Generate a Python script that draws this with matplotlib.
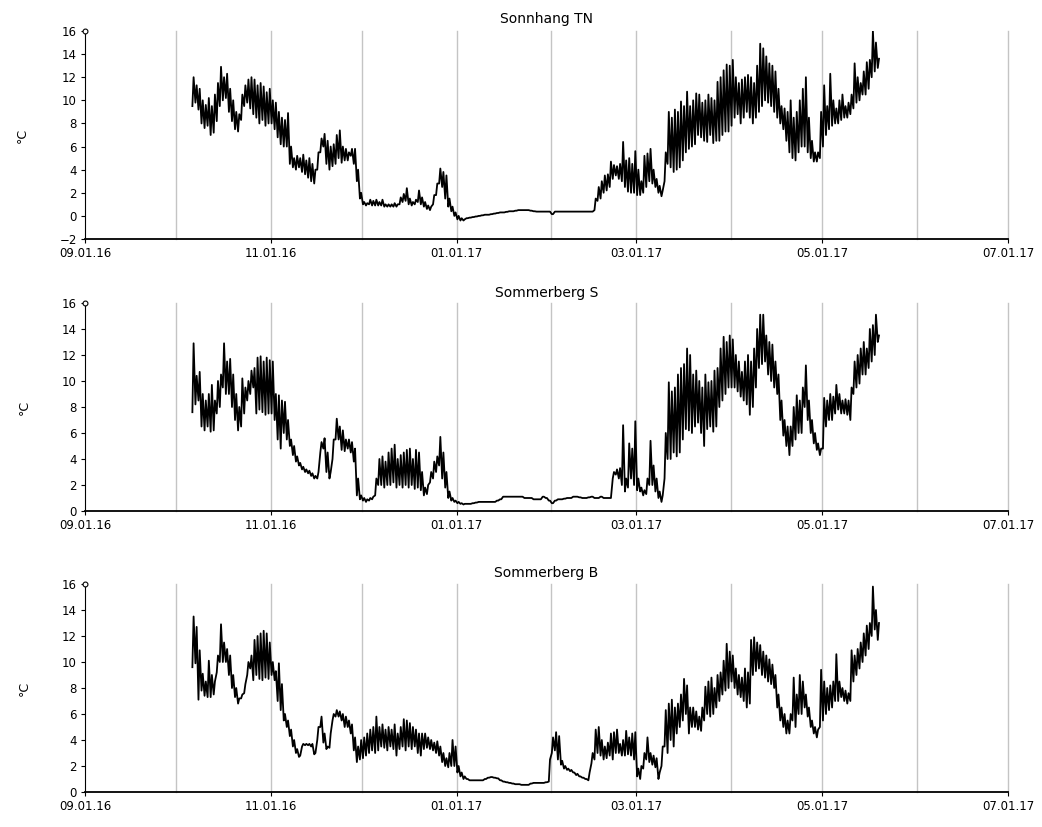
import datetime as dt
import numpy as np
import matplotlib
matplotlib.use('Agg')
import matplotlib.pyplot as plt
import matplotlib.dates as mdates

# daily readings, first day 06.10.2016, one max and one min per day (°C)
start_day = dt.datetime(2016, 10, 6)

titles = ["Sonnhang TN", "Sommerberg S", "Sommerberg B"]
ylims = [(-2, 16), (0, 16), (0, 16)]

sonnhang_hi = [
    12.0, 11.3, 11.0, 10.0, 9.6, 10.2, 9.5, 10.5, 11.5, 12.9,
    12.0, 12.3, 11.0, 10.0, 9.0, 8.8, 10.5, 11.3, 11.8, 12.0,
    11.8, 11.3, 11.5, 11.2, 10.7, 11.0, 10.0, 9.8, 9.0, 8.5,
    8.3, 8.9, 6.0, 5.0, 5.2, 5.0, 5.3, 4.8, 5.0, 4.5,
    4.0, 5.5, 6.7, 7.1, 6.5, 6.0, 6.2, 7.0, 7.4, 6.0,
    5.8, 5.5, 5.8, 5.8, 4.0, 2.0, 1.2, 1.1, 1.4, 1.3,
    1.4, 1.2, 1.4, 1.0, 1.0, 1.0, 1.1, 1.0, 1.6, 1.9,
    2.4, 1.5, 1.2, 1.4, 2.2, 1.6, 1.2, 0.9, 0.8, 1.8,
    2.8, 4.1, 3.8, 3.5, 1.5, 0.8, 0.3, 0.0, -0.2, -0.3,
    -0.2, -0.15, -0.1, -0.05, 0.0, 0.05, 0.1, 0.1, 0.15, 0.2,
    0.25, 0.3, 0.3, 0.35, 0.4, 0.4, 0.45, 0.5, 0.5, 0.5,
    0.5, 0.45, 0.4, 0.37, 0.37, 0.37, 0.37, 0.37, 0.15, 0.37,
    0.37, 0.37, 0.37, 0.37, 0.37, 0.37, 0.37, 0.37, 0.37, 0.37,
    0.37, 0.37, 1.5, 2.5, 3.0, 3.5, 3.6, 4.7, 4.4, 4.3,
    4.5, 6.4, 4.8, 5.0, 4.5, 5.6, 4.0, 3.0, 5.2, 5.4,
    5.8, 4.0, 3.2, 2.6, 2.2, 5.5, 9.0, 8.5, 9.2, 9.0,
    9.9, 9.5, 10.75, 9.5, 10.0, 10.6, 10.5, 9.8, 10.0, 10.5,
    10.2, 10.0, 11.6, 12.0, 12.6, 13.1, 13.0, 13.5, 12.0, 11.5,
    11.8, 12.0, 12.2, 12.0, 11.5, 13.0, 14.9, 14.5, 13.8, 13.2,
    13.0, 12.5, 11.0, 9.5, 9.3, 9.0, 10.0, 8.5, 9.0, 10.0,
    11.0, 12.0, 8.5, 6.5, 5.5, 5.5, 9.0, 11.3, 9.5, 12.3,
    10.0, 9.3, 10.0, 10.5, 9.5, 9.8, 10.5, 13.2, 12.0, 11.5,
    12.5, 13.3, 13.5, 16.0, 15.0, 13.6,
]
sonnhang_lo = [
    9.5, 9.8, 9.2, 8.0, 7.6, 7.8, 7.0, 7.2, 8.2, 9.5,
    10.0, 10.2, 9.0, 8.2, 7.5, 7.3, 8.3, 9.5, 9.8, 9.3,
    8.8, 8.5, 8.0, 8.3, 7.8, 8.0, 8.0, 7.5, 6.8, 6.2,
    6.0, 6.0, 4.5, 4.2, 4.0, 4.2, 3.8, 3.6, 3.3, 3.0,
    2.8, 4.0, 5.5, 6.0, 4.5, 4.0, 4.3, 4.5, 5.0, 4.6,
    4.8, 4.8, 5.2, 4.5, 3.0, 1.5, 1.0, 0.9, 1.0, 0.9,
    0.9, 0.9, 0.9, 0.8, 0.8, 0.8, 0.8, 0.8, 1.0, 1.2,
    1.3, 1.0, 0.9, 1.0, 1.2, 1.0, 0.8, 0.6, 0.5, 1.0,
    1.8, 2.8, 2.5, 1.5, 0.8, 0.4, 0.0, -0.3, -0.4, -0.4,
] + sonnhang_hi[90:132] + [
    0.5, 1.3, 1.5, 2.0, 2.2, 2.5, 3.2, 3.5,
    3.2, 3.0, 2.5, 2.1, 2.0, 2.0, 1.8, 1.8, 2.0, 2.5,
    3.0, 2.8, 2.5, 2.0, 1.7, 3.0, 4.5, 4.2, 3.8, 4.0,
    4.2, 4.8, 5.5, 5.8, 6.0, 6.2, 7.0, 6.8, 6.5, 6.4,
    7.0, 6.3, 6.5, 6.5, 7.0, 7.3, 7.3, 7.8, 8.5, 8.8,
    8.0, 8.5, 9.0, 8.5, 8.0, 8.5, 9.0, 9.5, 10.0, 9.8,
    9.5, 9.0, 8.5, 8.0, 7.5, 6.5, 5.5, 5.0, 4.8, 5.5,
    6.0, 6.0, 5.5, 5.0, 4.7, 4.7, 5.0, 6.0, 7.0, 7.5,
    7.8, 8.0, 8.0, 8.3, 8.5, 8.5, 8.8, 9.3, 9.8, 10.0,
    10.5, 10.5, 11.0, 12.0, 12.5, 12.8,
]

sommerberg_s_hi = [
    12.9, 10.4, 10.7, 9.0, 8.5, 9.0, 9.7, 8.5, 10.0, 10.5,
    12.9, 11.5, 11.7, 10.5, 9.0, 8.0, 10.2, 9.5, 10.0, 10.8,
    11.0, 11.8, 11.9, 11.5, 11.8, 11.6, 11.5, 9.0, 8.9, 8.5,
    8.4, 7.0, 5.5, 5.0, 4.2, 3.7, 3.4, 3.2, 3.1, 2.9,
    2.7, 3.0, 5.3, 5.6, 4.5, 3.0, 5.5, 7.1, 6.5, 6.2,
    5.5, 5.5, 5.3, 4.8, 2.5, 1.2, 1.0, 0.9, 1.0, 1.1,
    2.5, 4.0, 4.2, 3.8, 4.5, 4.8, 5.1, 4.0, 4.3, 4.5,
    4.7, 4.8, 4.0, 4.7, 4.5, 3.0, 1.8, 2.0, 3.0, 3.8,
    4.2, 5.7, 4.5, 3.0, 1.5, 1.0, 0.8, 0.7, 0.6, 0.55,
    0.55, 0.55, 0.6, 0.65, 0.7, 0.7, 0.7, 0.7, 0.7, 0.7,
    0.8, 0.9, 1.1, 1.1, 1.1, 1.1, 1.1, 1.1, 1.1, 1.0,
    1.0, 1.0, 0.9, 0.9, 0.9, 1.1, 1.0, 0.8, 0.6, 0.8,
    0.9, 0.9, 0.95, 1.0, 1.0, 1.1, 1.1, 1.05, 1.0, 1.0,
    1.05, 1.1, 1.0, 1.0, 1.1, 1.0, 1.0, 1.0, 3.0, 3.2,
    3.3, 6.6, 2.5, 5.2, 4.8, 6.9, 2.5, 1.8, 1.6, 2.5,
    5.4, 3.5, 2.5, 1.5, 1.2, 6.0, 9.9, 9.2, 9.5, 10.5,
    11.0, 11.3, 12.5, 12.0, 10.5, 10.8, 10.0, 9.5, 10.5, 9.9,
    10.0, 10.8, 11.0, 12.5, 13.4, 13.0, 13.5, 13.2, 12.0, 11.5,
    10.7, 11.5, 12.0, 11.5, 12.5, 14.0, 15.1, 15.1, 13.5, 13.0,
    12.8, 11.5, 10.5, 8.5, 7.0, 6.5, 6.5, 8.0, 8.9, 8.5,
    9.5, 11.2, 8.5, 7.0, 6.0, 5.2, 4.8, 8.7, 8.5, 9.0,
    8.8, 9.7, 9.0, 8.5, 8.6, 8.5, 9.5, 11.5, 12.0, 12.5,
    13.0, 12.5, 14.0, 14.3, 15.1, 13.5,
]
sommerberg_s_lo = [
    7.6, 8.2, 8.5, 6.5, 6.2, 6.5, 6.1, 6.2, 7.5, 8.0,
    9.5, 9.0, 9.0, 8.0, 7.0, 6.2, 6.5, 7.5, 8.5, 9.0,
    9.5, 7.5, 7.8, 7.6, 7.4, 7.5, 7.5, 7.0, 5.5, 4.8,
    6.0, 5.5, 5.0, 4.3, 3.8, 3.5, 3.2, 3.0, 2.9, 2.7,
    2.5, 2.5, 4.5, 4.8, 3.0, 2.5, 4.0, 5.5, 5.5, 4.7,
    4.6, 4.8, 4.5, 3.8, 1.2, 0.9, 0.8, 0.7, 0.8, 0.9,
    1.2, 2.0, 2.0, 1.8, 2.0, 2.0, 2.2, 1.8, 2.0, 1.8,
    2.0, 1.8, 2.0, 1.7, 1.8, 1.6, 1.2, 1.3, 2.2, 2.5,
    3.0, 3.5, 2.5, 1.8, 1.0, 0.8, 0.7, 0.6, 0.55, 0.5,
] + sommerberg_s_hi[90:138] + [
    2.5, 2.8, 2.5, 2.0, 1.5, 1.8, 2.5, 2.0, 1.6, 1.5, 1.2, 1.3,
    2.0, 2.0, 1.5, 1.0, 0.7, 2.5, 4.0, 4.0, 4.5, 4.2,
    4.5, 5.5, 6.3, 6.2, 6.0, 6.5, 6.8, 6.0, 5.0, 6.3,
    6.5, 6.1, 6.5, 8.0, 8.5, 9.0, 9.5, 9.5, 9.5, 9.2,
    8.8, 8.5, 8.2, 7.4, 8.0, 9.5, 11.0, 11.3, 11.5, 10.5,
    10.0, 9.5, 9.0, 7.0, 5.8, 5.0, 4.3, 5.0, 5.5, 6.0,
    6.0, 8.0, 7.0, 6.0, 5.2, 4.7, 4.3, 4.8, 6.5, 7.0,
    7.0, 7.5, 7.8, 7.5, 7.5, 7.4, 7.0, 9.0, 9.5, 9.8,
    10.5, 10.5, 11.0, 11.5, 12.0, 13.0,
]

sommerberg_b_hi = [
    13.5, 12.7, 10.9, 9.1, 8.5, 10.1, 9.0, 8.5, 10.5, 12.9,
    11.5, 11.0, 10.5, 9.0, 8.0, 7.2, 7.5, 8.3, 10.0, 10.5,
    11.7, 12.0, 12.2, 12.4, 12.2, 11.5, 10.0, 9.3, 9.9, 8.3,
    6.0, 5.5, 4.8, 4.0, 3.3, 2.8, 3.7, 3.7, 3.7, 3.7,
    3.0, 5.0, 5.8, 4.5, 3.5, 4.5, 6.0, 6.3, 6.2, 6.0,
    5.8, 5.5, 5.2, 4.2, 3.5, 4.0, 4.2, 4.5, 4.8, 5.0,
    5.8, 5.0, 5.2, 4.8, 5.0, 4.8, 5.2, 4.5, 5.0, 5.6,
    5.5, 5.3, 5.0, 4.8, 4.5, 4.5, 4.5, 4.2, 4.0, 3.8,
    3.9, 3.5, 3.0, 2.6, 3.0, 4.0, 3.5, 2.0, 1.5, 1.2,
    1.0, 0.9, 0.9, 0.9, 0.9, 0.9, 1.0, 1.1, 1.15, 1.1,
    1.05, 0.9, 0.8, 0.75, 0.7, 0.65, 0.6, 0.6, 0.55, 0.55,
    0.55, 0.65, 0.7, 0.7, 0.7, 0.7, 0.75, 2.5, 4.2, 4.6,
    4.3, 2.4, 2.0, 1.8, 1.7, 1.5, 1.4, 1.2, 1.1, 1.0,
    1.5, 3.0, 4.8, 5.0, 4.0, 3.5, 3.8, 4.5, 4.6, 4.8,
    3.7, 4.0, 4.7, 4.2, 4.5, 4.6, 1.8, 2.0, 3.0, 4.2,
    3.0, 2.8, 2.6, 1.5, 3.5, 6.3, 6.8, 7.1, 6.5, 6.8,
    7.5, 8.7, 8.2, 6.5, 6.5, 6.2, 5.8, 6.5, 8.1, 8.5,
    8.8, 8.0, 9.0, 9.2, 10.1, 11.4, 10.8, 10.5, 9.5, 9.0,
    8.8, 9.5, 9.2, 11.7, 11.9, 11.5, 11.3, 10.8, 10.5, 10.2,
    9.8, 9.0, 7.5, 6.5, 6.0, 5.5, 6.0, 8.8, 7.5, 9.0,
    8.5, 7.5, 6.5, 5.5, 5.0, 4.8, 9.4, 8.5, 8.0, 8.2,
    8.5, 10.6, 8.5, 8.0, 7.8, 7.6, 10.9, 10.5, 11.0, 11.5,
    12.2, 12.8, 13.0, 15.8, 14.0, 13.0,
]
sommerberg_b_lo = [
    9.6, 9.9, 7.1, 7.8, 7.4, 7.3, 7.3, 7.5, 9.2, 10.0,
    10.0, 10.0, 9.0, 8.0, 7.3, 6.8, 7.2, 7.6, 9.0, 9.5,
    8.6, 9.0, 8.7, 8.6, 8.8, 8.7, 9.0, 8.6, 7.0, 6.3,
    5.5, 5.0, 4.3, 3.5, 3.0, 2.7, 3.5, 3.6, 3.6, 3.5,
    2.9, 4.0, 5.0, 3.8, 3.3, 3.4, 5.5, 5.8, 5.8, 5.5,
    5.0, 5.0, 4.5, 3.2, 2.3, 2.5, 2.6, 2.8, 3.0, 3.2,
    3.0, 3.2, 3.5, 3.4, 3.2, 3.5, 3.3, 2.8, 3.3, 3.5,
    3.2, 3.5, 3.3, 3.5, 3.0, 2.8, 3.3, 3.4, 3.3, 3.2,
    3.0, 2.8, 2.3, 2.0, 1.9, 2.0, 2.0, 1.5, 1.2, 1.0,
] + sommerberg_b_hi[90:117] + [
    0.8, 3.0, 3.2, 2.5, 2.1, 1.8, 1.7, 1.6, 1.5, 1.3, 1.2, 1.1, 1.0,
    0.9, 2.2, 2.5, 3.0, 2.8, 2.5, 2.6, 2.8, 2.5, 3.0,
    3.0, 2.8, 2.8, 2.9, 2.8, 2.5, 1.2, 1.0, 1.8, 2.5,
    2.3, 2.1, 1.9, 1.0, 2.0, 3.5, 3.0, 4.0, 3.5, 4.5,
    5.0, 5.5, 6.0, 4.5, 5.0, 5.0, 4.8, 4.7, 5.5, 6.0,
    5.8, 6.0, 6.5, 7.0, 7.5, 7.8, 8.0, 8.5, 8.0, 7.5,
    7.3, 7.0, 6.5, 6.8, 9.0, 9.3, 9.5, 9.0, 8.8, 8.5,
    8.3, 8.0, 6.5, 5.5, 5.0, 4.5, 4.5, 5.5, 5.0, 6.0,
    6.0, 6.5, 5.8, 5.0, 4.5, 4.2, 5.0, 5.5, 6.0, 6.3,
    6.5, 7.0, 7.0, 7.3, 7.0, 6.8, 7.0, 8.5, 9.0, 9.5,
    10.0, 10.5, 11.0, 12.0, 12.5, 11.7,
]

series = [
    (sonnhang_hi, sonnhang_lo),
    (sommerberg_s_hi, sommerberg_s_lo),
    (sommerberg_b_hi, sommerberg_b_lo),
]


def daily_trace(hi, lo):
    # min in the early morning, max in the afternoon
    n = min(len(hi), len(lo))
    t0 = mdates.date2num(start_day)
    t = np.empty(2 * n)
    v = np.empty(2 * n)
    t[0::2] = t0 + np.arange(n) + 0.25
    t[1::2] = t0 + np.arange(n) + 0.65
    v[0::2] = lo[:n]
    v[1::2] = hi[:n]
    return t, v


fig = plt.figure(figsize=(10.42, 8.27), dpi=100)
bottoms = [1 - 239 / 827, 1 - 511 / 827, 1 - 792 / 827]
pads = [6, 4, 5]
x_lo = mdates.date2num(dt.datetime(2016, 9, 1))
x_hi = mdates.date2num(dt.datetime(2017, 7, 1))

for k in range(3):
    ax = fig.add_axes([85 / 1042, bottoms[k], 923 / 1042, 208 / 827])
    hi, lo = series[k]
    t, v = daily_trace(hi, lo)

    # monthly grid lines
    for m in range(1, 11):
        yr = 2016 + (8 + m) // 12
        mo = (8 + m) % 12 + 1
        ax.axvline(mdates.date2num(dt.datetime(yr, mo, 1)), color="#c4c4c4",
                   linewidth=1.0, zorder=0, clip_on=False)

    ax.plot(t, v, color="black", linewidth=1.3, zorder=3)

    ax.set_xlim(x_lo, x_hi)
    ax.set_ylim(*ylims[k])
    ax.set_yticks(np.arange(ylims[k][0], 17, 2))
    ax.xaxis.set_major_locator(mdates.MonthLocator(bymonth=[1, 3, 5, 7, 9, 11]))
    ax.xaxis.set_major_formatter(mdates.DateFormatter("%m.%d.%y"))
    ax.tick_params(axis="both", labelsize=8.5, length=3, width=0.8)
    ax.tick_params(axis="x", pad=3)
    ax.tick_params(axis="y", pad=3)
    for side in ("top", "right"):
        ax.spines[side].set_visible(False)
    ax.spines["left"].set_linewidth(0.8)
    ax.spines["bottom"].set_linewidth(1.3)
    ax.plot([x_lo], [ylims[k][1]], marker="o", markersize=3.5, mfc="white",
            mec="black", mew=0.8, clip_on=False, zorder=5)
    ax.set_title(titles[k], fontsize=10, pad=pads[k])
    ax.set_ylabel("°C", fontsize=9, labelpad=22)

fig.savefig("out.png", dpi=100)
